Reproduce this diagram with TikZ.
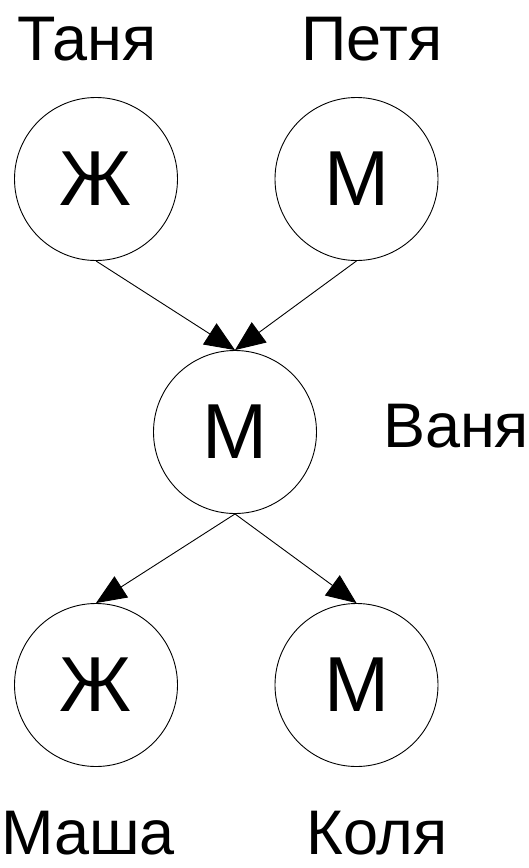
\documentclass[tikz,border=0pt]{standalone}
\usepackage{fontspec}
\setmainfont{Liberation Sans}
\usetikzlibrary{arrows.meta}
\begin{document}
\begin{tikzpicture}[x=1pt,y=-1pt,
  person/.style={draw,circle,line width=0.9pt,minimum size=163pt,inner sep=0pt,font=\fontsize{78}{78}\selectfont},
  pname/.style={anchor=base,inner sep=0pt,font=\fontsize{63}{63}\selectfont},
  link/.style={line width=0.9pt,-{Triangle[length=30pt,width=25pt]}}]
\useasboundingbox (0,0) rectangle (529,868);
\node[person] (tanya) at (96,179) {Ж};
\node[person] (petya) at (356.5,179) {М};
\node[person] (vanya) at (235,432) {М};
\node[person] (masha) at (96,685) {Ж};
\node[person] (kolya) at (356.5,685) {М};
\node[pname] (lt) at (87,60) {Таня};
\node[pname] (lp) at (372,60) {Петя};
\node[pname] (lv) at (456,447) {Ваня};
\node[pname] (lm) at (88,854) {Маша};
\node[pname] (lk) at (377,854) {Коля};
\draw[link] (tanya.south) -- (vanya.north);
\draw[link] (petya.south) -- (vanya.north);
\draw[link] (vanya.south) -- (masha.north);
\draw[link] (vanya.south) -- (kolya.north);
\end{tikzpicture}
\end{document}
